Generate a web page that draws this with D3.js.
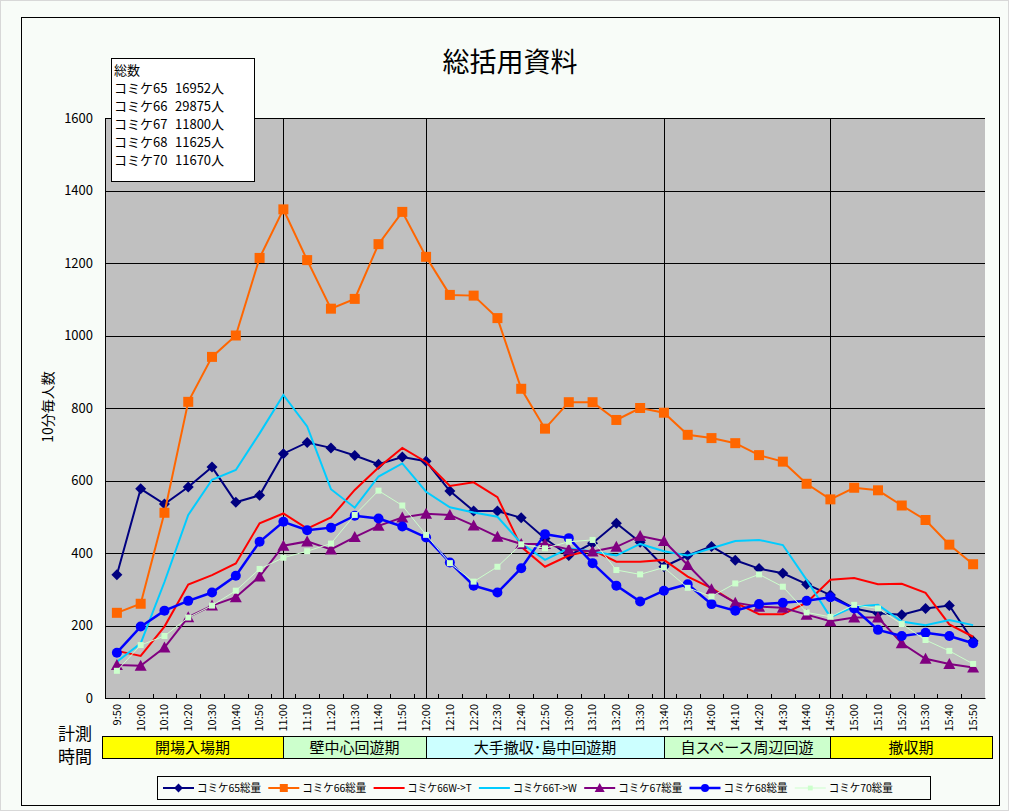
<!DOCTYPE html>
<meta charset="utf-8">
<script src="https://cdnjs.cloudflare.com/ajax/libs/d3/7.8.5/d3.min.js"></script>
<style>
  body { margin: 0; background: #f8fcf8; }
  text { font-family: "Noto Sans CJK JP", "Noto Sans", sans-serif; }
</style>
<div id="my_dataviz"></div>
<script>
  // time slots (10 min)
  var times = ["9:50","10:00","10:10","10:20","10:30","10:40","10:50","11:00","11:10","11:20","11:30","11:40","11:50",
    "12:00","12:10","12:20","12:30","12:40","12:50","13:00","13:10","13:20","13:30","13:40","13:50","14:00","14:10",
    "14:20","14:30","14:40","14:50","15:00","15:10","15:20","15:30","15:40","15:50"];

  var c65 = [340,577,535,582,637,540,559,674,705,690,669,645,665,653,571,516,516,497,440,393,427,482,430,362,393,418,380,357,344,314,284,247,234,230,247,255,157];
  var c66 = [235,260,511,817,941,1000,1214,1348,1208,1074,1101,1252,1341,1217,1112,1110,1048,853,743,816,816,767,800,787,726,717,703,670,652,591,548,580,573,531,491,423,369];
  var c66wt = [130,116,197,313,339,371,482,509,467,498,574,636,690,651,585,595,554,417,362,393,408,376,376,381,335,303,263,231,231,263,326,331,314,315,290,203,169];
  var c66tw = [100,151,320,505,602,629,730,836,749,576,525,611,647,569,526,512,500,427,381,413,404,393,425,405,393,413,433,436,422,326,223,252,257,211,201,215,201];
  var c67 = [91,89,139,223,255,278,335,420,432,410,444,475,498,508,505,476,445,425,425,410,404,417,447,433,367,300,263,252,249,230,212,222,222,151,108,94,84];
  var c68 = [125,197,241,268,291,337,431,486,463,470,503,495,473,443,374,310,291,358,452,441,372,310,266,296,314,259,241,259,263,268,278,247,188,171,180,171,151];
  var c70 = [75,146,171,222,255,296,356,387,405,426,505,572,531,450,372,321,362,424,413,431,436,353,341,360,304,280,316,341,307,236,224,257,247,204,160,130,94];

  var seriesNames = ["コミケ65総量","コミケ66総量","コミケ66W->T","コミケ66T->W","コミケ67総量","コミケ68総量","コミケ70総量"];
  var totalsLabels = ["コミケ65","コミケ66","コミケ67","コミケ68","コミケ70"];
  var totalsValues = ["16952人","29875人","11800人","11625人","11670人"];
  var yTicks = [0,200,400,600,800,1000,1200,1400,1600];
  var phaseNames = ["開場入場期","壁中心回遊期","大手撤収･島中回遊期","自スペース周辺回遊","撤収期"];
  var phaseBreaks = ["11:00","12:00","13:40","14:50"];

  var series = [
    { name: seriesNames[0], values: c65,   color: "#000080", width: 2,   marker: "diamond",  size: 11 },
    { name: seriesNames[1], values: c66,   color: "#ff6600", width: 2,   marker: "square",   size: 10 },
    { name: seriesNames[2], values: c66wt, color: "#ff0000", width: 2,   marker: null },
    { name: seriesNames[3], values: c66tw, color: "#00ccff", width: 2,   marker: null },
    { name: seriesNames[4], values: c67,   color: "#800080", width: 2,   marker: "triangle", size: 10 },
    { name: seriesNames[5], values: c68,   color: "#0000ff", width: 2.5, marker: "circle",   size: 10 },
    { name: seriesNames[6], values: c70,   color: "#ccffcc", width: 1,   marker: "square",   size: 6 }
  ];

  var W = 1009, H = 811;
  var plot = { left: 105, right: 985, top: 118, bottom: 698 };

  var svg = d3.select("#my_dataviz").append("svg")
    .attr("width", W).attr("height", H);

  // page frame
  svg.append("rect").attr("x", 0.5).attr("y", 0.5).attr("width", W - 1).attr("height", H - 1)
    .attr("fill", "#f8fcf8").attr("stroke", "#d8d8d8");
  svg.append("rect").attr("x", 21.5).attr("y", 17.5).attr("width", 978).attr("height", 788)
    .attr("fill", "none").attr("stroke", "#000");

  var x = d3.scaleBand().domain(times).range([plot.left, plot.right]).padding(0);
  var y = d3.scaleLinear().domain([0, 1600]).range([plot.bottom, plot.top]);
  var cx = function (t) { return x(t) + x.bandwidth() / 2; };

  // plot background
  svg.append("rect").attr("x", plot.left).attr("y", plot.top)
    .attr("width", plot.right - plot.left).attr("height", plot.bottom - plot.top)
    .attr("fill", "#c0c0c0");

  // horizontal grid
  svg.append("g").selectAll("line").data(yTicks).enter().append("line")
    .attr("x1", plot.left).attr("x2", plot.right)
    .attr("y1", function (d) { return Math.round(y(d)) + 0.5; })
    .attr("y2", function (d) { return Math.round(y(d)) + 0.5; })
    .attr("stroke", "#000").attr("stroke-width", 1);

  // phase separators
  svg.append("g").selectAll("line").data(phaseBreaks).enter().append("line")
    .attr("x1", function (d) { return Math.round(cx(d)) + 0.5; })
    .attr("x2", function (d) { return Math.round(cx(d)) + 0.5; })
    .attr("y1", plot.top).attr("y2", plot.bottom)
    .attr("stroke", "#000").attr("stroke-width", 1);

  // y axis
  var yAxis = d3.axisLeft(y).tickValues(yTicks).tickFormat(d3.format("d")).tickSize(0).tickPadding(12);
  var ya = svg.append("g").attr("transform", "translate(" + plot.left + ",0)").call(yAxis);
  ya.select(".domain").attr("stroke", "#000");
  ya.selectAll("text").style("font-size", "13px").attr("fill", "#000");

  // x axis
  var xAxis = d3.axisBottom(x).tickSize(0).tickPadding(0);
  var xa = svg.append("g").attr("transform", "translate(0," + plot.bottom + ")").call(xAxis);
  xa.select(".domain").attr("stroke", "#000");
  xa.selectAll("text")
    .style("font-size", "11px").attr("fill", "#000")
    .attr("text-anchor", "end").attr("dy", "0.35em")
    .attr("transform", "translate(0,6) rotate(-90)")
    .attr("x", 0).attr("y", 0);
  // small ticks between categories
  svg.append("g").selectAll("line").data(times.slice(1)).enter().append("line")
    .attr("x1", function (d) { return Math.round(x(d)) + 0.5; })
    .attr("x2", function (d) { return Math.round(x(d)) + 0.5; })
    .attr("y1", plot.bottom - 4).attr("y2", plot.bottom)
    .attr("stroke", "#000");

  // y label
  svg.append("text").attr("transform", "translate(53,407) rotate(-90)")
    .attr("text-anchor", "middle").style("font-size", "14px").text("10分毎人数");

  // title
  svg.append("text").attr("x", 510).attr("y", 72).attr("text-anchor", "middle")
    .style("font-size", "27px").text("総括用資料");

  // series lines
  var line = d3.line().x(function (d, i) { return cx(times[i]); }).y(function (d) { return y(d); });

  function markerPath(type, s) {
    var h = s / 2;
    if (type === "diamond") return "M0," + (-h) + "L" + h + ",0L0," + h + "L" + (-h) + ",0Z";
    if (type === "square") return "M" + (-h) + "," + (-h) + "h" + s + "v" + s + "h" + (-s) + "Z";
    if (type === "triangle") return "M0," + (-h - 1) + "L" + (h + 1) + "," + h + "L" + (-h - 1) + "," + h + "Z";
    if (type === "circle") return d3.symbol(d3.symbolCircle, Math.PI * h * h)();
    return "";
  }

  series.forEach(function (s) {
    var g = svg.append("g");
    g.append("path").datum(s.values).attr("d", line)
      .attr("fill", "none").attr("stroke", s.color).attr("stroke-width", s.width)
      .attr("stroke-linejoin", "miter");
    if (s.marker) {
      g.selectAll("path.m").data(s.values).enter().append("path").attr("class", "m")
        .attr("d", markerPath(s.marker, s.size))
        .attr("transform", function (d, i) { return "translate(" + cx(times[i]) + "," + y(d) + ")"; })
        .attr("fill", s.color);
    }
  });

  // totals box
  var tb = svg.append("g").attr("transform", "translate(111,58)");
  tb.append("rect").attr("x", 0.5).attr("y", 0.5).attr("width", 143).attr("height", 123)
    .attr("fill", "#fff").attr("stroke", "#000");
  tb.append("text").attr("x", 3).attr("y", 17).style("font-size", "13px").text("総数");
  totalsLabels.forEach(function (lbl, i) {
    tb.append("text").attr("x", 3).attr("y", 35 + i * 18).style("font-size", "13px").text(lbl);
    tb.append("text").attr("x", 64).attr("y", 35 + i * 18).style("font-size", "13px").text(totalsValues[i]);
  });

  // phase bar
  var bounds = [102].concat(phaseBreaks.map(function (t) { return Math.round(cx(t)); })).concat([992]);
  var phaseColors = ["#ffff00", "#ccffcc", "#ccffff", "#ccffcc", "#ffff00"];
  var pb = svg.append("g");
  phaseNames.forEach(function (p, i) {
    pb.append("rect").attr("x", bounds[i] + 0.5).attr("y", 736.5)
      .attr("width", bounds[i + 1] - bounds[i]).attr("height", 22)
      .attr("fill", phaseColors[i]).attr("stroke", "#000");
    pb.append("text").attr("x", (bounds[i] + bounds[i + 1]) / 2).attr("y", 753)
      .attr("text-anchor", "middle").style("font-size", "15px").text(p);
  });
  svg.append("text").attr("x", 58).attr("y", 740).style("font-size", "17px").text("計測");
  svg.append("text").attr("x", 58).attr("y", 763).style("font-size", "17px").text("時間");

  // legend
  var lg = svg.append("g");
  lg.append("rect").attr("x", 157.5).attr("y", 776.5).attr("width", 773).attr("height", 23)
    .attr("fill", "#f8fcf8").attr("stroke", "#000");
  series.forEach(function (s, i) {
    var lx = 163 + i * 105.3, ly = 788;
    lg.append("line").attr("x1", lx).attr("x2", lx + 31).attr("y1", ly).attr("y2", ly)
      .attr("stroke", s.color).attr("stroke-width", s.width);
    if (s.marker) {
      lg.append("path").attr("d", markerPath(s.marker, s.size * 0.8))
        .attr("transform", "translate(" + (lx + 15.5) + "," + ly + ")").attr("fill", s.color);
    }
    lg.append("text").attr("x", lx + 34).attr("y", ly + 4).style("font-size", "11px")
      .attr("textLength", 64).attr("lengthAdjust", "spacingAndGlyphs").text(s.name);
  });
</script>
